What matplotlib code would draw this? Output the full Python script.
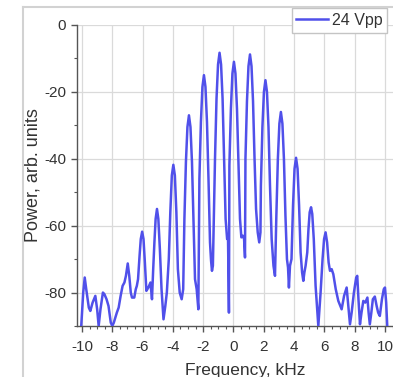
import matplotlib
matplotlib.use("Agg")
import matplotlib.pyplot as plt
from matplotlib.lines import Line2D
from matplotlib.ticker import MultipleLocator

plt.rcParams['font.family'] = ['Liberation Sans', 'DejaVu Sans']
plt.rcParams['axes.unicode_minus'] = False

# Measured spectrum trace: frequency (kHz) and power (arb. units, dB)
freq_khz = [
    -10.05, -9.92, -9.82, -9.72, -9.55, -9.45, -9.3, -9.12, -9.0, -8.9,
    -8.78, -8.62, -8.52, -8.38, -8.25, -8.1, -8.0, -7.9, -7.7, -7.58,
    -7.45, -7.32, -7.2, -7.1, -6.98, -6.88, -6.78, -6.7, -6.55, -6.45,
    -6.38, -6.3, -6.2, -6.12, -6.03, -5.94, -5.85, -5.75, -5.62, -5.48,
    -5.38, -5.3, -5.22, -5.14, -5.05, -4.96, -4.86, -4.75, -4.62, -4.5,
    -4.4, -4.27, -4.17, -4.07, -3.97, -3.87, -3.77, -3.67, -3.55, -3.42,
    -3.32, -3.24, -3.14, -3.04, -2.94, -2.84, -2.74, -2.64, -2.54, -2.43,
    -2.32, -2.25, -2.15, -2.05, -1.95, -1.85, -1.75, -1.65, -1.55, -1.48,
    -1.42, -1.36, -1.22, -1.12, -1.02, -0.92, -0.82, -0.72, -0.62, -0.52,
    -0.42, -0.36, -0.3, -0.27, -0.17, -0.07, 0.03, 0.13, 0.23, 0.33,
    0.43, 0.52, 0.62, 0.7, 0.76, 0.79, 0.89, 0.99, 1.09, 1.19,
    1.29, 1.39, 1.49, 1.6, 1.7, 1.78, 1.81, 1.91, 2.01, 2.11,
    2.21, 2.31, 2.41, 2.52, 2.64, 2.74, 2.83, 2.93, 3.03, 3.13,
    3.23, 3.33, 3.43, 3.53, 3.6, 3.66, 3.73, 3.83, 3.93, 4.03,
    4.13, 4.23, 4.33, 4.43, 4.53, 4.61, 4.68, 4.76, 4.87, 4.95,
    5.03, 5.12, 5.2, 5.3, 5.42, 5.6, 5.75, 5.88, 5.98, 6.08,
    6.18, 6.28, 6.37, 6.48, 6.59, 6.75, 6.92, 7.05, 7.14, 7.3,
    7.47, 7.6, 7.69, 7.8, 7.95, 8.1, 8.17, 8.25, 8.35, 8.45,
    8.57, 8.7, 8.84, 8.92, 9.0, 9.1, 9.2, 9.33, 9.45, 9.55,
    9.66, 9.8, 9.92, 10.0, 10.08, 10.15,
]
power_db = [
    -90, -80, -75.5, -79, -84.5, -85.5, -83, -81, -85, -90,
    -85, -80, -80.5, -82, -84, -89, -90, -89, -86, -84.5,
    -81, -78, -77, -75, -71.3, -75, -80, -81.5, -81.5, -79,
    -78, -76, -69, -64, -61.8, -64, -71, -79.5, -78.5, -77,
    -82, -73, -65, -58, -55, -58, -67, -79, -88, -84,
    -80, -70, -56, -45, -41.8, -45, -56, -73, -80, -82,
    -79, -58, -41, -30.5, -27, -30.5, -41, -58, -76, -79,
    -85, -46, -29, -18.5, -15, -18.5, -29, -46, -65, -70.5,
    -73.5, -72, -40, -22, -11.8, -8.3, -11.8, -22, -40, -58,
    -64, -64, -86, -42, -25, -14.5, -11, -14.5, -25, -42,
    -58, -63.5, -63, -64, -69.5, -40, -22.8, -12.3, -8.8, -12.3,
    -22.8, -40, -55, -62, -65, -62, -48, -30.5, -20, -16.5,
    -20, -30.5, -48, -64, -72, -75, -57, -40, -29.5, -26,
    -29.5, -40, -57, -70, -72.5, -78.5, -72, -70, -54, -43,
    -39.7, -43, -54, -68, -74, -76.5, -74, -72, -68, -61,
    -56, -54.5, -56.5, -64, -78, -90, -80, -70, -64, -62,
    -65, -71, -73.5, -73, -74.5, -79, -82.5, -84, -85, -81,
    -78.5, -85, -89.5, -86, -80, -75.5, -75, -82, -89.5, -86,
    -82.5, -83, -81.5, -86, -89.5, -86, -82, -81.2, -84, -86,
    -87, -82, -79, -78.5, -83, -90,
]

series_label = "24 Vpp"
x_ticks = [-10, -8, -6, -4, -2, 0, 2, 4, 6, 8, 10]
y_ticks = [0, -20, -40, -60, -80]

W, H = 393, 377
fig = plt.figure(figsize=(W / 100, H / 100), dpi=100)
fig.patch.set_facecolor('white')

# Axes box in pixel units (left, right, top, bottom measured from the top edge)
ax_l, ax_r, ax_t, ax_b = 77, 393, 25, 326
ax = fig.add_axes([ax_l / W, 1 - ax_b / H, (ax_r - ax_l) / W, (ax_b - ax_t) / H])

ax.plot(freq_khz, power_db, color='#5050ea', lw=1.8, solid_joinstyle='round',
        label=series_label, zorder=3)

ax.set_xlim(-10.33, 10.53)
ax.set_ylim(-90, 0)
ax.set_xticks(x_ticks)
ax.set_yticks(y_ticks)
ax.xaxis.set_minor_locator(MultipleLocator(0.5))
ax.yaxis.set_minor_locator(MultipleLocator(10))

ax.grid(True, which='major', color='#dadada', lw=0.9, zorder=0)
ax.set_axisbelow(True)

for s in ('top', 'right'):
    ax.spines[s].set_visible(False)
for s in ('left', 'bottom'):
    ax.spines[s].set_color('#555555')
    ax.spines[s].set_linewidth(1.0)

ax.tick_params(axis='both', which='major', direction='out', length=4, width=1.0,
               color='#555555', labelsize=11, labelcolor='#333333')
ax.tick_params(axis='both', which='minor', direction='out', length=2, width=0.8,
               color='#555555')
ax.tick_params(axis='x', which='major', pad=6)
ax.tick_params(axis='y', which='major', pad=4)

ax.set_xlabel('Frequency, kHz', fontsize=12.5, color='#333333')
ax.set_ylabel('Power, arb. units', fontsize=13, color='#333333')
ax.xaxis.set_label_coords((245 - ax_l) / (ax_r - ax_l), (ax_b - 363) / (ax_b - ax_t))
ax.yaxis.set_label_coords((42 - ax_l) / (ax_r - ax_l), 0.5)

leg = ax.legend(loc='upper right', bbox_to_anchor=(387 / W, 1 - 8 / H),
                bbox_transform=fig.transFigure, borderaxespad=0,
                fancybox=False, framealpha=1, edgecolor='#c4c4c4',
                fontsize=11.5, handlelength=2.0, handletextpad=0.2,
                borderpad=0.3)
leg.get_frame().set_linewidth(1.0)
for t in leg.get_texts():
    t.set_color('#333333')

# Light outer frame around the graph page
frame_kw = dict(color='#d2d2d2', lw=1.5, transform=fig.transFigure)
fig.add_artist(Line2D([23 / W, 23 / W], [1 - 7 / H, 0], **frame_kw))
fig.add_artist(Line2D([23 / W, 1], [1 - 7 / H, 1 - 7 / H], **frame_kw))

fig.savefig('out.png', dpi=100, facecolor='white')
